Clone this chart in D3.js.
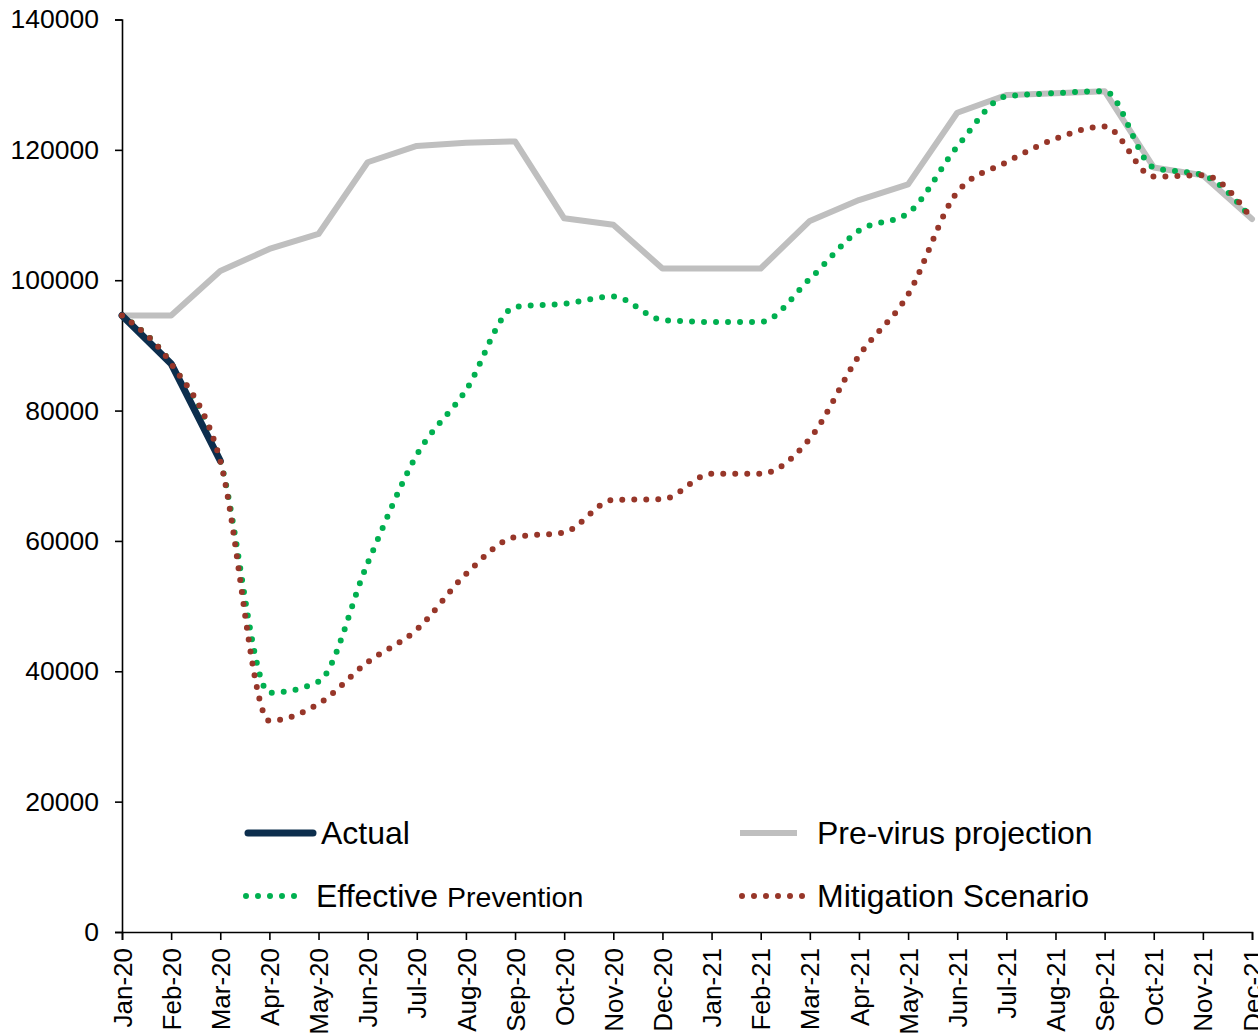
<!DOCTYPE html>
<html>
<head>
<meta charset="utf-8">
<script src="https://cdn.jsdelivr.net/npm/d3@7"></script>
<style>
  body { margin: 0; background: #fff; }
  svg { display: block; font-family: "Liberation Sans", Arial, sans-serif; }
</style>
</head>
<body>
<div id="chart"></div>
<script>
var width = 1258,
	height = 1036,
	margin = {top: 19.5, right: 6, bottom: 104, left: 122};

// months on the x axis
var months = ["Jan-20","Feb-20","Mar-20","Apr-20","May-20","Jun-20","Jul-20","Aug-20","Sep-20","Oct-20","Nov-20","Dec-20",
	"Jan-21","Feb-21","Mar-21","Apr-21","May-21","Jun-21","Jul-21","Aug-21","Sep-21","Oct-21","Nov-21","Dec-21"];

var yTicks = [0, 20000, 40000, 60000, 80000, 100000, 120000, 140000];

var actual = [94600, 87200, 72300];

var preVirus = [94600, 94600, 101400, 104800, 107100, 118100, 120600, 121100, 121300, 109500, 108500, 101800,
	101800, 101800, 109100, 112300, 114700, 125700, 128400, 128700, 129000, 117300, 116100, 109400];

var effective = [94600, 87200, 72300, 36700, 38400, 56600, 73200, 83100, 95900, 96400, 97500, 93900,
	93600, 93600, 100200, 107600, 110300, 120500, 128200, 128700, 129000, 117300, 116100, 109400];

var mitigation = [94600, 87200, 72300, 32400, 35000, 41400, 46400, 54900, 60600, 61300, 66300, 66400,
	70300, 70300, 75700, 88400, 97800, 113500, 118100, 121700, 123600, 115900, 116100, 109400];

var svg = d3.select("#chart").append("svg")
	.attr("width", width)
	.attr("height", height);

var x = d3.scalePoint()
	.domain(months)
	.range([margin.left, width - margin.right]);

var y = d3.scaleLinear()
	.domain([0, 140000])
	.range([height - margin.bottom, margin.top]);

// axes
var yAxis = svg.append("g")
	.attr("transform", "translate(" + margin.left + ",0)")
	.call(d3.axisLeft(y).tickValues(yTicks).tickFormat(d3.format("d")).tickSize(7).tickPadding(16));

var xAxis = svg.append("g")
	.attr("transform", "translate(0," + (height - margin.bottom) + ")")
	.call(d3.axisBottom(x).tickSize(8).tickPadding(0));

[yAxis, xAxis].forEach(function(a) {
	a.select(".domain").attr("stroke", "#000").attr("stroke-width", 1.6);
	a.selectAll(".tick line").attr("stroke", "#000").attr("stroke-width", 1.6);
	a.selectAll("text").attr("fill", "#000").style("font-size", "26.5px")
		.style("font-family", "'Liberation Sans', Arial, sans-serif");
});

xAxis.selectAll(".tick text")
	.style("font-size", "26px")
	.attr("transform", "rotate(-90)")
	.attr("x", -16)
	.attr("y", 0)
	.attr("dy", "0.35em")
	.style("text-anchor", "end");

// lines
var straight = d3.line()
	.x(function(d, i) { return x(months[i]); })
	.y(function(d) { return y(d); });

var smooth = d3.line()
	.x(function(d, i) { return x(months[i]); })
	.y(function(d) { return y(d); })
	.curve(d3.curveMonotoneX);

var series = [
	{name: "Pre-virus projection", values: preVirus, gen: straight, color: "#bfbfbf", w: 6, dash: null},
	{name: "Effective Prevention", values: effective, gen: smooth, color: "#00b050", w: 6, dash: "0,12"},
	{name: "Actual", values: actual, gen: straight, color: "#0c2e4d", w: 7, dash: null},
	{name: "Mitigation Scenario", values: mitigation, gen: smooth, color: "#973629", w: 6, dash: "0,12"}
];

svg.append("g")
	.attr("class", "lines")
	.selectAll("path")
	.data(series)
	.enter()
	.append("path")
	.attr("d", function(d) { return d.gen(d.values); })
	.attr("fill", "none")
	.attr("stroke", function(d) { return d.color; })
	.attr("stroke-width", function(d) { return d.w; })
	.attr("stroke-linecap", "round")
	.attr("stroke-linejoin", "round")
	.attr("stroke-dasharray", function(d) { return d.dash; });

// legend
var legendItems = [
	{s: series[2], x1: 248, x2: 313, tx: 321, ty: 833, cap: "round"},
	{s: series[0], x1: 740, x2: 797, tx: 817, ty: 833, cap: "butt"},
	{s: series[1], x1: 246, x2: 300, tx: 316, ty: 896, cap: "round"},
	{s: series[3], x1: 742, x2: 806, tx: 817, ty: 896, cap: "round"}
];

var legend = svg.append("g").attr("class", "legend");

legend.selectAll("line")
	.data(legendItems)
	.enter()
	.append("line")
	.attr("x1", function(d) { return d.x1; })
	.attr("x2", function(d) { return d.x2; })
	.attr("y1", function(d) { return d.ty; })
	.attr("y2", function(d) { return d.ty; })
	.attr("stroke", function(d) { return d.s.color; })
	.attr("stroke-width", function(d) { return d.s.w; })
	.attr("stroke-linecap", function(d) { return d.cap; })
	.attr("stroke-dasharray", function(d) { return d.s.dash; });

var labels = legend.selectAll("text")
	.data(legendItems)
	.enter()
	.append("text")
	.attr("x", function(d) { return d.tx; })
	.attr("y", function(d) { return d.ty; })
	.attr("dy", "0.35em")
	.attr("fill", "#000")
	.style("font-size", "32px");

labels.each(function(d) {
	var t = d3.select(this);
	if (d.s.name === "Effective Prevention") {
		t.append("tspan").text("Effective ");
		t.append("tspan").style("font-size", "28.5px").text("Prevention");
	} else {
		t.text(d.s.name);
	}
});
</script>
</body>
</html>
